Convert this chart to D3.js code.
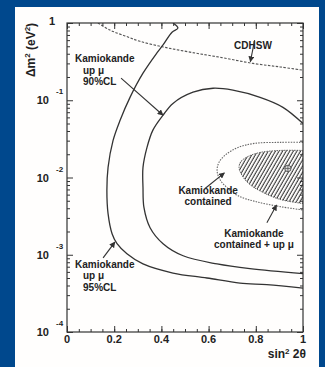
<!DOCTYPE html>
<html>
<head>
<meta charset="utf-8">
<script src="https://cdn.jsdelivr.net/npm/d3@7"></script>
<style>
body { margin: 0; background: #00488d; }
svg { display: block; }
text { font-family: "Liberation Sans", Arial, sans-serif; font-weight: bold; fill: #222; }
</style>
</head>
<body>
<script>
// sin^2 2theta vs delta m^2 (eV^2) exclusion / allowed contours

// CDHSW limit (dashed)
var cdhswS2  = [0.131, 0.182, 0.246, 0.309, 0.407, 0.521, 0.648, 0.788, 0.903, 1.0];
var cdhswDm2 = [1, 0.81, 0.68, 0.58, 0.49, 0.42, 0.36, 0.30, 0.27, 0.245];

// Kamiokande up mu 95%CL (outer solid curve)
var up95S2  = [0.449, 0.470, 0.445, 0.407, 0.381, 0.322, 0.267, 0.225, 0.195, 0.174, 0.169, 0.174, 0.191, 0.212, 0.254, 0.322, 0.449, 0.593, 0.733, 0.847, 1.0];
var up95Dm2 = [1, 0.86, 0.76, 0.52, 0.41, 0.224, 0.109, 0.055, 0.030, 0.0135, 0.0068, 0.0034, 0.00187, 0.00139, 0.00103, 0.00076, 0.00058, 0.00050, 0.00043, 0.00041, 0.00037];

// Kamiokande up mu 90%CL (inner solid curve)
var up90S2  = [1.0, 0.915, 0.818, 0.703, 0.619, 0.534, 0.449, 0.407, 0.364, 0.339, 0.322, 0.322, 0.326, 0.352, 0.407, 0.492, 0.636, 0.775, 1.0];
var up90Dm2 = [0.050, 0.081, 0.109, 0.135, 0.143, 0.127, 0.091, 0.064, 0.041, 0.0245, 0.0135, 0.0074, 0.0041, 0.00224, 0.00139, 0.00097, 0.00076, 0.00066, 0.00057];

// Kamiokande contained (dotted)
var contS2  = [1.0, 0.903, 0.797, 0.725, 0.674, 0.644, 0.636, 0.648, 0.678, 0.725, 0.797, 0.903, 1.0];
var contDm2 = [0.0285, 0.0285, 0.0277, 0.0245, 0.0199, 0.0157, 0.0123, 0.0094, 0.0074, 0.0058, 0.0049, 0.0042, 0.0038];

// Kamiokande contained + up mu (hatched)
var combS2  = [1.0, 0.903, 0.818, 0.767, 0.737, 0.729, 0.742, 0.775, 0.831, 0.903, 1.0];
var combDm2 = [0.0224, 0.0224, 0.0211, 0.0187, 0.0161, 0.0135, 0.0106, 0.0081, 0.0064, 0.0052, 0.0046];

// best fit point
var bestS2 = 0.936, bestDm2 = 0.0131;

var xTicks = [0, 0.2, 0.4, 0.6, 0.8, 1];
var xTickLabels = ["0", "0.2", "0.4", "0.6", "0.8", "1"];
var yTicks = [1e-4, 1e-3, 1e-2, 1e-1, 1];
var yExponents = ["-4", "-3", "-2", "-1", ""];

var W = 325, H = 367;
var svg = d3.select("body").append("svg")
    .attr("width", W)
    .attr("height", H);

svg.append("rect").attr("width", W).attr("height", H).attr("fill", "#00488d");
svg.append("rect").attr("x", 15).attr("y", 7).attr("width", 304).attr("height", 360).attr("fill", "#fffefd");

var x = d3.scaleLinear().domain([0, 1]).range([67, 303]);
var y = d3.scaleLog().domain([1e-4, 1]).range([332, 23]);

var defs = svg.append("defs");
defs.append("clipPath").attr("id", "clip")
  .append("rect").attr("x", 67).attr("y", 23).attr("width", 236).attr("height", 309);

var hatch = defs.append("pattern")
    .attr("id", "hatch")
    .attr("patternUnits", "userSpaceOnUse")
    .attr("width", 3.1).attr("height", 10)
    .attr("patternTransform", "rotate(30)");
hatch.append("line").attr("x1", 1).attr("y1", 0).attr("x2", 1).attr("y2", 10)
    .attr("stroke", "#3c3c3c").attr("stroke-width", 1.1);

defs.append("marker")
    .attr("id", "arrow")
    .attr("viewBox", "0 0 10 10")
    .attr("refX", 9).attr("refY", 5)
    .attr("markerWidth", 6).attr("markerHeight", 6)
    .attr("markerUnits", "userSpaceOnUse")
    .attr("orient", "auto")
  .append("path").attr("d", "M0,0 L10,5 L0,10 z").attr("fill", "#333");

var line = d3.line()
    .x(function(d) { return x(d[0]); })
    .y(function(d) { return y(d[1]); })
    .curve(d3.curveCatmullRom.alpha(0.5));

function pts(a, b) { return a.map(function(v, i) { return [v, b[i]]; }); }

var plot = svg.append("g").attr("clip-path", "url(#clip)");

// hatched region
var comb = pts(combS2, combDm2);
plot.append("path")
    .attr("d", line(comb) + "Z")
    .attr("fill", "url(#hatch)")
    .attr("stroke", "#555")
    .attr("stroke-width", 0.9)
    .attr("stroke-dasharray", "1.5,1");

plot.append("path")
    .attr("d", line(pts(contS2, contDm2)))
    .attr("fill", "none")
    .attr("stroke", "#666")
    .attr("stroke-width", 1.1)
    .attr("stroke-dasharray", "1.5,1.2");

plot.append("path")
    .attr("d", line(pts(cdhswS2, cdhswDm2)))
    .attr("fill", "none")
    .attr("stroke", "#555")
    .attr("stroke-width", 1.1)
    .attr("stroke-dasharray", "2.5,1.5");

plot.append("path")
    .attr("d", line(pts(up95S2, up95Dm2)))
    .attr("fill", "none")
    .attr("stroke", "#333")
    .attr("stroke-width", 1.3);

plot.append("path")
    .attr("d", line(pts(up90S2, up90Dm2)))
    .attr("fill", "none")
    .attr("stroke", "#333")
    .attr("stroke-width", 1.3);

// best fit marker
var bf = plot.append("g").attr("transform", "translate(" + x(bestS2) + "," + y(bestDm2) + ")");
bf.append("circle").attr("r", 3.2).attr("fill", "#ddd").attr("stroke", "#555").attr("stroke-width", 1);
bf.append("path").attr("d", "M-3,0H3M0,-3V3").attr("stroke", "#555").attr("stroke-width", 0.8);

// frame
svg.append("rect")
    .attr("x", 67).attr("y", 23).attr("width", 236).attr("height", 309)
    .attr("fill", "none").attr("stroke", "#333").attr("stroke-width", 1.2);

// ticks (inward)
var xMinor = d3.range(0, 1.0001, 0.05);
var yMinor = [];
[1e-4, 1e-3, 1e-2, 1e-1].forEach(function(d) {
  for (var k = 2; k <= 9; k++) yMinor.push(d * k);
});

function tickAxis(axis, pos, vals, size) {
  var g = svg.append("g").attr("transform", pos)
      .call(axis.tickValues(vals).tickSize(-size).tickFormat(""));
  g.select(".domain").remove();
  g.selectAll("line").attr("stroke", "#333").attr("stroke-width", 1);
}
tickAxis(d3.axisBottom(x), "translate(0,332)", xTicks, 6);
tickAxis(d3.axisBottom(x), "translate(0,332)", xMinor, 3);
tickAxis(d3.axisTop(x), "translate(0,23)", xTicks, 6);
tickAxis(d3.axisTop(x), "translate(0,23)", xMinor, 3);
tickAxis(d3.axisLeft(y), "translate(67,0)", yTicks, 6);
tickAxis(d3.axisLeft(y), "translate(67,0)", yMinor, 3);
tickAxis(d3.axisRight(y), "translate(303,0)", yTicks, 6);
tickAxis(d3.axisRight(y), "translate(303,0)", yMinor, 3);

// x tick labels
svg.selectAll(".xl").data(xTicks).enter().append("text")
    .attr("x", function(d) { return x(d); })
    .attr("y", 343)
    .attr("text-anchor", "middle")
    .attr("font-size", 11)
    .text(function(d, i) { return xTickLabels[i]; });

// y tick labels
yTicks.forEach(function(v, i) {
  if (yExponents[i] === "") {
    svg.append("text").attr("x", 55).attr("y", y(v) + 2)
        .attr("text-anchor", "end").attr("font-size", 11).text("1");
  } else {
    svg.append("text").attr("x", 49).attr("y", y(v) + 4)
        .attr("text-anchor", "end").attr("font-size", 11).text("10");
    svg.append("text").attr("x", 56).attr("y", y(v) - 6)
        .attr("font-size", 8).text(yExponents[i]);
  }
});

// axis titles
var xt = svg.append("text").attr("x", 306).attr("y", 358)
    .attr("text-anchor", "end").attr("font-size", 12);
xt.append("tspan").text("sin");
xt.append("tspan").attr("font-size", 8).attr("dy", -4).text("2");
xt.append("tspan").attr("dy", 4).text(" 2\u03b8");

var yt = svg.append("text")
    .attr("transform", "translate(35,50) rotate(-90)")
    .attr("text-anchor", "middle").attr("font-size", 12);
yt.append("tspan").text("\u0394m");
yt.append("tspan").attr("font-size", 8).attr("dy", -5).text("2");
yt.append("tspan").attr("dy", 5).text(" (eV");
yt.append("tspan").attr("font-size", 8).attr("dy", -5).text("2");
yt.append("tspan").attr("dy", 5).text(")");

// annotations: [s2, dm2] anchors
function label(lines, s2, dm2, anchor, indent) {
  var t = svg.append("text").attr("font-size", 10).attr("text-anchor", anchor);
  lines.forEach(function(l, i) {
    t.append("tspan")
      .attr("x", x(s2) + (i > 0 ? indent : 0))
      .attr("y", y(dm2) + i * 11.5)
      .text(l);
  });
}
function arrow(s0, d0, s1, d1) {
  svg.append("line")
      .attr("x1", x(s0)).attr("y1", y(d0))
      .attr("x2", x(s1)).attr("y2", y(d1))
      .attr("stroke", "#333").attr("stroke-width", 1.1)
      .attr("marker-end", "url(#arrow)");
}

label(["CDHSW"], 0.788, 0.46, "middle", 0);
arrow(0.795, 0.60, 0.777, 0.315);

label(["Kamiokande", "up \u03bc", "90%CL"], 0.034, 0.31, "start", 8);
arrow(0.229, 0.193, 0.407, 0.064);

label(["Kamiokande", "up \u03bc", "95%CL"], 0.034, 0.00068, "start", 8);
arrow(0.153, 0.00091, 0.203, 0.00146);

label(["Kamiokande", "contained"], 0.598, 0.0062, "middle", 0);
arrow(0.585, 0.0072, 0.667, 0.0115);

label(["Kamiokande", "contained + up \u03bc"], 0.792, 0.0017, "middle", 0);
arrow(0.847, 0.0026, 0.888, 0.0044);
</script>
</body>
</html>
